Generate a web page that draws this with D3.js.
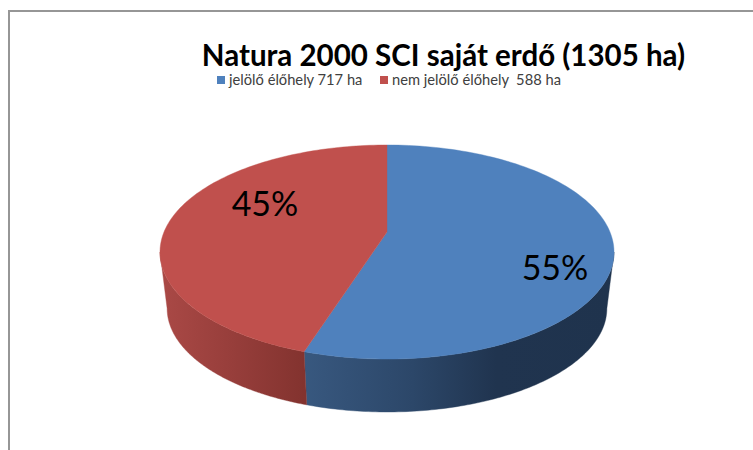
<!DOCTYPE html>
<html>
<head>
<meta charset="utf-8">
<script src="https://cdn.jsdelivr.net/npm/d3@7"></script>
<style>
  html, body { margin: 0; padding: 0; background: #fff; }
  svg { display: block; }
  text { font-family: Lato, Carlito, "Open Sans", sans-serif; fill: #000; }
</style>
</head>
<body>
<div id="chart"></div>
<script>
// Natura 2000 SCI saját erdő
const TITLE = "Natura 2000 SCI saját erdő (1305 ha)";
const categories = ["jelölő élőhely 717 ha", "nem jelölő élőhely  588 ha"];
const hectares = [717, 588];
const colors = ["#4F81BD", "#C0504D"];
const sideStops = [
  [[0, "#38587F"], [0.35, "#2C4769"], [0.62, "#20344F"], [1, "#1F334D"]],
  [[0, "#AA4946"], [0.5, "#973E3B"], [1, "#83332F"]]
];

const width = 753, height = 450;
const svg = d3.select("#chart").append("svg")
  .attr("width", width).attr("height", height);

// frame of the chart area, runs off the right and bottom edge
svg.append("path")
  .attr("d", d3.line()([[width, 11], [9, 11], [9, height]]))
  .attr("fill", "none").attr("stroke", "#969696").attr("stroke-width", 2);

/* ---------- perspective disc ---------- */
const K = 0.187;              // perspective strength
const CX = 387;
const topDisc = { a: 223, b: 103.3, cy: 232 };
const bottomDisc = { a: 216, b: 100, cy: 289 };

// angle is clockwise from 12 o'clock
const project = (disc, angle) => {
  const u = Math.sin(angle), v = -Math.cos(angle), w = 1 - K * v;
  return [CX + disc.a * u / w, disc.cy + disc.b * v / w];
};
const sweep = (disc, a0, a1) =>
  d3.range(0, 121).map(i => project(disc, a0 + (a1 - a0) * i / 120));

const pie = d3.pie().sort(null).value(d => d);
const arcs = pie(hectares);
const line = d3.line();

/* ---------- side wall ---------- */
const frontFrom = Math.acos(-K), frontTo = 2 * Math.PI - frontFrom;
const defs = svg.append("defs");

arcs.forEach((d, i) => {
  const a0 = Math.max(d.startAngle, frontFrom), a1 = Math.min(d.endAngle, frontTo);
  const xs = [project(topDisc, a0)[0], project(topDisc, a1)[0]];
  const grad = defs.append("linearGradient")
    .attr("id", `side${i}`)
    .attr("gradientUnits", "userSpaceOnUse")
    .attr("x1", d3.min(xs)).attr("x2", d3.max(xs)).attr("y1", 0).attr("y2", 0);
  sideStops[i].forEach(([off, c]) => {
    grad.append("stop").attr("offset", off).attr("stop-color", c);
  });
  svg.append("path")
    .attr("d", line([...sweep(topDisc, a0, a1), ...sweep(bottomDisc, a1, a0)]) + "Z")
    .attr("fill", `url(#side${i})`)
    .attr("stroke", `url(#side${i})`).attr("stroke-width", 0.4);
});

/* ---------- top face ---------- */
arcs.forEach((d, i) => {
  svg.append("path")
    .attr("d", line([[CX, topDisc.cy], ...sweep(topDisc, d.startAngle, d.endAngle)]) + "Z")
    .attr("fill", colors[i])
    .attr("stroke", colors[i]).attr("stroke-width", 0.4);
});

/* ---------- labels ---------- */
const labelPos = [[555, 280], [265, 216]];
const fmtPct = d3.format(".0%");
const total = d3.sum(hectares);
svg.selectAll(".pct")
  .data(hectares)
  .join("text")
    .attr("class", "pct")
    .attr("x", (d, i) => labelPos[i][0])
    .attr("y", (d, i) => labelPos[i][1])
    .attr("text-anchor", "middle")
    .attr("font-size", 34)
    .text(d => fmtPct(d / total));

svg.append("text")
  .attr("x", 443.5).attr("y", 66)
  .attr("text-anchor", "middle")
  .attr("font-size", 29.5).attr("font-weight", 700)
  .text(TITLE);

/* ---------- legend ---------- */
const legendX = [217, 380];
const leg = svg.selectAll(".leg")
  .data(categories)
  .join("g")
    .attr("class", "leg")
    .attr("transform", (d, i) => `translate(${legendX[i]},76)`);
leg.append("rect").attr("width", 8).attr("height", 8).attr("fill", (d, i) => colors[i]);
leg.append("text")
  .attr("x", 12).attr("y", 8.5)
  .attr("font-size", 14.7)
  .style("fill", "#404040")
  .style("white-space", "pre")
  .text(d => d);
</script>
</body>
</html>
